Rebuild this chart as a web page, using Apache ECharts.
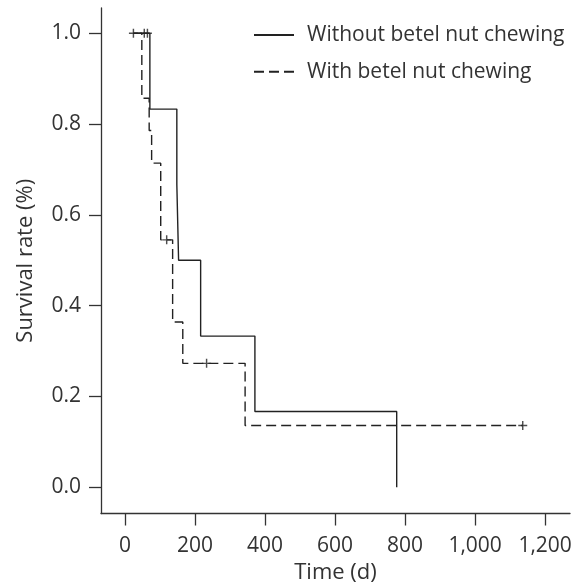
<!DOCTYPE html>
<html>
<head>
<meta charset="utf-8">
<script src="https://cdn.jsdelivr.net/npm/echarts@6/dist/echarts.min.js"></script>
<style>
  html, body { margin: 0; padding: 0; background: #fff; }
  #chart { width: 579px; height: 585px; }
</style>
</head>
<body>
<div id="chart"></div>
<script>
// Kaplan-Meier steps
const withoutTimes = [24, 71, 148, 153, 216, 371, 776]
const withoutSurv = [1, 0.833, 0.667, 0.5, 0.333, 0.167, 0]
const withoutCensorTimes = [55, 64]
const withoutCensorSurv = [1, 1]

const withTimes = [24, 48, 69, 76, 102, 136, 165, 343, 1136]
const withSurv = [1, 0.857, 0.786, 0.714, 0.545, 0.364, 0.273, 0.136, 0.136]
const withCensorTimes = [24, 119, 233, 1136]
const withCensorSurv = [1, 0.545, 0.273, 0.136]

const xTicks = [0, 200, 400, 600, 800, 1000, 1200]
const yTicks = [0, 0.2, 0.4, 0.6, 0.8, 1.0]

const seriesNames = ['Without betel nut chewing', 'With betel nut chewing']

const FONT = 'Open Sans'
const INK = '#222'
const PLUS = 'path://M-1.6,-10H1.6V-1.6H10V1.6H1.6V10H-1.6V1.6H-10V-1.6H-1.6Z'

const zip = (xs, ys) => xs.map((x, i) => [x, ys[i]])

const chart = echarts.init(document.getElementById('chart'))

chart.setOption({
  animation: false,
  textStyle: { fontFamily: FONT, color: '#333' },
  grid: { left: 101, right: 9, top: 8, bottom: 71.5, outerBoundsMode: 'none' },
  legend: {
    data: seriesNames,
    orient: 'vertical',
    left: 248,
    top: 18,
    itemWidth: 40,
    itemHeight: 14,
    itemGap: 12.7,
    // hide the symbol ECharts puts in the middle of a line legend icon
    itemStyle: { color: 'rgba(0,0,0,0)', borderWidth: 0 },
    textStyle: { fontFamily: FONT, fontSize: 21, color: '#333', lineHeight: 24, padding: [0, 0, 0, 8] }
  },
  xAxis: {
    type: 'value',
    min: -68.6,
    max: 1271,
    name: 'Time (d)',
    nameLocation: 'middle',
    nameGap: 47,
    nameTextStyle: { fontFamily: FONT, fontSize: 22, color: '#333' },
    axisLine: { show: true, onZero: false, lineStyle: { color: '#333', width: 1.3 } },
    axisTick: { show: true, length: 12, customValues: xTicks, lineStyle: { color: '#333', width: 1.3 } },
    axisLabel: {
      customValues: xTicks,
      margin: 22,
      fontFamily: FONT,
      fontSize: 21,
      color: '#333',
      formatter: (v) => v.toLocaleString('en-US')
    },
    splitLine: { show: false }
  },
  yAxis: {
    type: 'value',
    min: -0.0577,
    max: 1.0557,
    name: 'Survival rate (%)',
    nameLocation: 'middle',
    nameRotate: 90,
    nameGap: 64,
    nameTextStyle: { fontFamily: FONT, fontSize: 22, color: '#333' },
    axisLine: { show: true, onZero: false, lineStyle: { color: '#333', width: 1.3 } },
    axisTick: { show: true, length: 12, customValues: yTicks, lineStyle: { color: '#333', width: 1.3 } },
    axisLabel: {
      customValues: yTicks,
      margin: 20,
      fontFamily: FONT,
      fontSize: 21,
      color: '#333',
      formatter: (v) => v.toFixed(1)
    },
    splitLine: { show: false }
  },
  series: [
    {
      name: seriesNames[0],
      type: 'line',
      step: 'end',
      symbol: 'none',
      data: zip(withoutTimes, withoutSurv),
      lineStyle: { color: INK, width: 1.4, type: 'solid' },
      itemStyle: { color: INK }
    },
    {
      name: seriesNames[1],
      type: 'line',
      step: 'end',
      symbol: 'none',
      data: zip(withTimes, withSurv),
      lineStyle: { color: INK, width: 1.4, type: [10, 5] },
      itemStyle: { color: INK }
    },
    {
      type: 'scatter',
      symbol: PLUS,
      symbolSize: 9,
      data: zip(withoutCensorTimes, withoutCensorSurv),
      itemStyle: { color: INK }
    },
    {
      type: 'scatter',
      symbol: PLUS,
      symbolSize: 9,
      data: zip(withCensorTimes, withCensorSurv),
      itemStyle: { color: INK }
    }
  ]
})
</script>
</body>
</html>
